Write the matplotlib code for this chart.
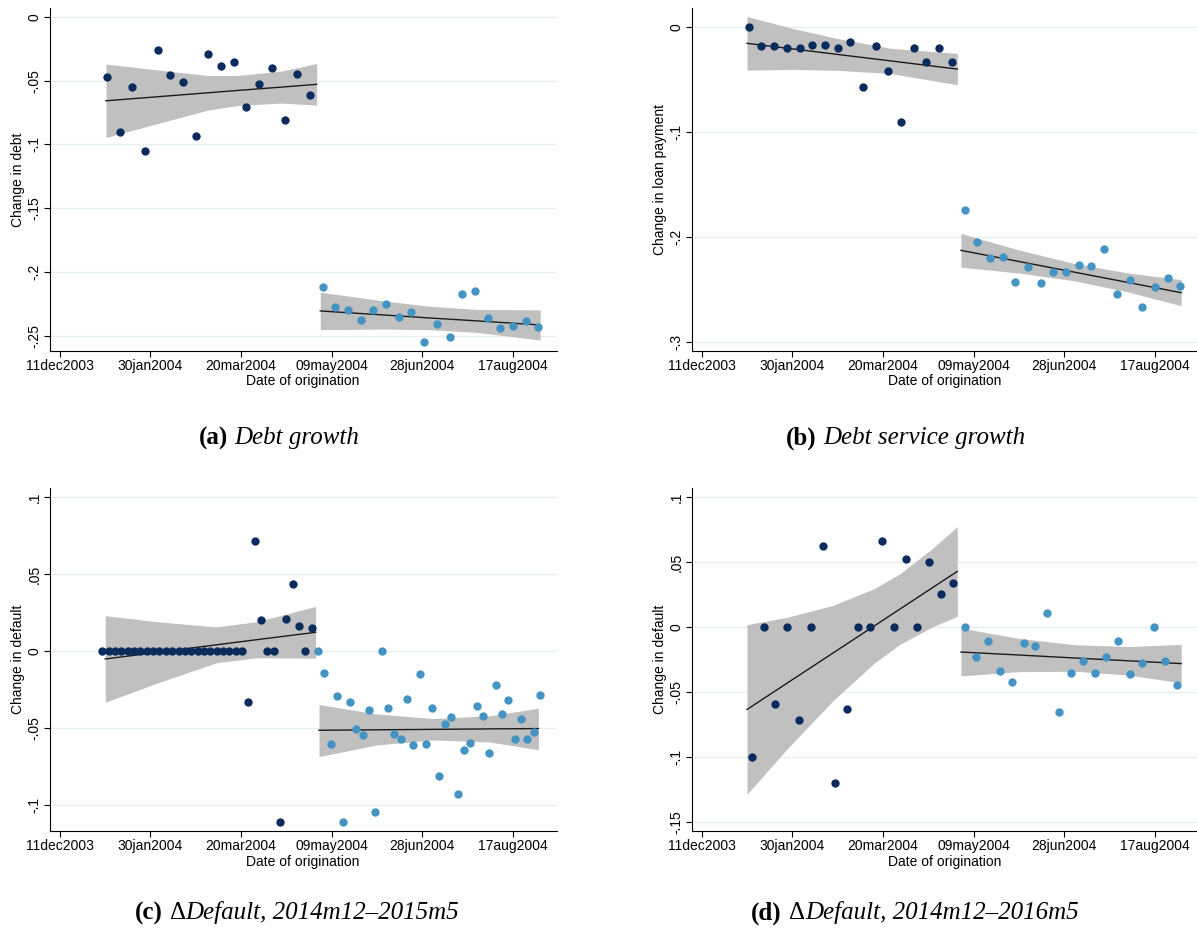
import matplotlib
matplotlib.use('Agg')
import matplotlib.pyplot as plt
from matplotlib.offsetbox import TextArea, HPacker, AnchoredOffsetbox

plt.rcParams['font.family'] = ['Liberation Sans', 'DejaVu Sans']

# ── x axis: days after 11dec2003 ──────────────────────────────────────────────
x_tick_days = [0, 50, 100, 150, 200, 250]
x_tick_labels = ["11dec2003", "30jan2004", "20mar2004", "09may2004", "28jun2004", "17aug2004"]

# ── (a) / (b): weekly bins ────────────────────────────────────────────────────
x_pre_ab = [26, 33, 40, 47, 54, 61, 68, 75, 82, 89, 96, 103, 110, 117, 124, 131, 138]
x_post_ab = [145, 152, 159, 166, 173, 180, 187, 194, 201, 208, 215, 222, 229, 236, 243,
             250, 257, 264]

y_pre_a = [-0.0470, -0.0901, -0.0548, -0.1049, -0.0256, -0.0453, -0.0513, -0.0936, -0.0288,
           -0.0383, -0.0352, -0.0703, -0.0526, -0.0396, -0.0806, -0.0448, -0.0610]
y_post_a = [-0.2120, -0.2272, -0.2296, -0.2377, -0.2296, -0.2254, -0.2353, -0.2317, -0.2547,
            -0.2406, -0.2508, -0.2170, -0.2147, -0.2359, -0.2442, -0.2422, -0.2387, -0.2429]

y_pre_b = [0.0, -0.0181, -0.0188, -0.0206, -0.0202, -0.0178, -0.0176, -0.0207, -0.0146,
           -0.0573, -0.0184, -0.0417, -0.0904, -0.0200, -0.0337, -0.0198, -0.0333]
y_post_b = [-0.1744, -0.2052, -0.2198, -0.2195, -0.2426, -0.2290, -0.2439, -0.2331, -0.2334,
            -0.2271, -0.2274, -0.2119, -0.2540, -0.2407, -0.2667, -0.2480, -0.2391, -0.2464]

# ── (c): half-weekly bins ─────────────────────────────────────────────────────
x_pre_c = [23.5, 27, 30.5, 34, 37.5, 41, 44.5, 48, 51.5, 55, 58.5, 62, 65.5, 69, 72.5, 76,
           79.5, 83, 86.5, 90, 93.5, 97, 100.5, 104, 107.5, 111, 114.5, 118, 121.5, 125,
           128.5, 132, 135.5, 139]
x_post_c = [142.5, 146, 149.5, 153, 156.5, 160, 163.5, 167, 170.5, 174, 177.5, 181, 184.5,
            188, 191.5, 195, 198.5, 202, 205.5, 209, 212.5, 216, 219.5, 223, 226.5, 230,
            233.5, 237, 240.5, 244, 247.5, 251, 254.5, 258, 261.5, 265]
y_pre_c = [0.0, 0.0, 0.0, 0.0, 0.0, 0.0, 0.0, 0.0, 0.0, 0.0, 0.0, 0.0, 0.0, 0.0, 0.0, 0.0,
           0.0, 0.0, 0.0, 0.0, 0.0, 0.0, 0.0,
           -0.0333, 0.0711, 0.0199, 0.0, 0.0, -0.1108, 0.0207, 0.0434, 0.0160, 0.0, 0.0151]
y_post_c = [0.0, -0.0141, -0.0606, -0.0290, -0.1110, -0.0333, -0.0509, -0.0548, -0.0385,
            -0.1043, 0.0, -0.0368, -0.0537, -0.0571, -0.0312, -0.0610, -0.0149, -0.0602,
            -0.0370, -0.0810, -0.0472, -0.0429, -0.0929, -0.0645, -0.0595, -0.0359, -0.0424,
            -0.0660, -0.0219, -0.0411, -0.0318, -0.0571, -0.0444, -0.0571, -0.0526, -0.0288]

# ── (d) ───────────────────────────────────────────────────────────────────────
x_pre_d = [27.7, 34.2, 40.7, 47.3, 53.8, 60.3, 66.8, 73.3, 79.9, 86.4, 92.9, 99.4, 105.9,
           112.5, 119.0, 125.5, 132.0, 138.5]
x_post_d = [145.0, 151.5, 158.0, 164.5, 171.0, 177.6, 184.1, 190.6, 197.1, 203.6, 210.2,
            216.7, 223.2, 229.7, 236.2, 242.7, 249.3, 255.8, 262.3]
y_pre_d = [-0.1001, 0.0, -0.0589, 0.0, -0.0714, 0.0, 0.0622, -0.1198, -0.0627, 0.0, 0.0,
           0.0663, 0.0, 0.0522, 0.0, 0.0504, 0.0256, 0.0338]
y_post_d = [0.0, -0.0226, -0.0105, -0.0336, -0.0423, -0.0123, -0.0144, 0.0113, -0.0649,
            -0.0351, -0.0262, -0.0354, -0.0226, -0.0105, -0.0356, -0.0272, 0.0, -0.0259,
            -0.0446]

# ── linear fits with 95% CI (x, lower, fit, upper) ────────────────────────────
band_a_pre_x = [25.5, 56, 82, 98, 122, 141.7]
band_a_pre_lo = [-0.0945, -0.0828, -0.0729, -0.0694, -0.0675, -0.0691]
band_a_pre_fit = [-0.0657, -0.0623, -0.0594, -0.0576, -0.0550, -0.0528]
band_a_pre_hi = [-0.0369, -0.0418, -0.0459, -0.0458, -0.0425, -0.0365]
band_a_post_x = [143.7, 179, 204, 230, 265]
band_a_post_lo = [-0.2453, -0.2448, -0.2453, -0.2474, -0.2534]
band_a_post_fit = [-0.2306, -0.2338, -0.2361, -0.2384, -0.2416]
band_a_post_hi = [-0.2159, -0.2228, -0.2269, -0.2294, -0.2298]

band_b_pre_x = [25, 50, 76, 104, 141]
band_b_pre_lo = [-0.0413, -0.0406, -0.0416, -0.0445, -0.0552]
band_b_pre_fit = [-0.0158, -0.0211, -0.0266, -0.0325, -0.0403]
band_b_pre_hi = [0.0097, -0.0016, -0.0116, -0.0205, -0.0254]
band_b_post_x = [143, 175, 206, 235, 264.5]
band_b_post_lo = [-0.2288, -0.2344, -0.2419, -0.2523, -0.2655]
band_b_post_fit = [-0.2128, -0.2234, -0.2337, -0.2433, -0.2531]
band_b_post_hi = [-0.1968, -0.2124, -0.2255, -0.2343, -0.2407]

band_c_pre_x = [25.1, 53.4, 86.5, 108.6, 141.1]
band_c_pre_lo = [-0.0333, -0.0210, -0.0076, -0.0044, -0.0047]
band_c_pre_fit = [-0.0052, -0.0010, 0.0040, 0.0073, 0.0121]
band_c_pre_hi = [0.0229, 0.0190, 0.0156, 0.0190, 0.0289]
band_c_post_x = [143, 175, 206, 237, 264]
band_c_post_lo = [-0.0686, -0.0610, -0.0578, -0.0591, -0.0641]
band_c_post_fit = [-0.0515, -0.0512, -0.0509, -0.0506, -0.0504]
band_c_post_hi = [-0.0348, -0.0409, -0.0439, -0.0421, -0.0372]

band_d_pre_x = [25, 46.5, 72.2, 95, 109.2, 127.5, 141]
band_d_pre_lo = [-0.1285, -0.0945, -0.0568, -0.0278, -0.0132, 0.0005, 0.0085]
band_d_pre_fit = [-0.0632, -0.0435, -0.0200, 0.0009, 0.0139, 0.0307, 0.0430]
band_d_pre_hi = [0.0021, 0.0075, 0.0168, 0.0296, 0.0410, 0.0609, 0.0775]
band_d_post_x = [143, 175, 206, 236, 264.5]
band_d_post_lo = [-0.0374, -0.0341, -0.0338, -0.0368, -0.0427]
band_d_post_fit = [-0.0190, -0.0213, -0.0236, -0.0258, -0.0279]
band_d_post_hi = [-0.0006, -0.0085, -0.0134, -0.0148, -0.0131]

# ── y axes ────────────────────────────────────────────────────────────────────
yticks_a = [0, -0.05, -0.1, -0.15, -0.2, -0.25]
ytick_labels_a = ["0", "-.05", "-.1", "-.15", "-.2", "-.25"]
yticks_b = [0, -0.1, -0.2, -0.3]
ytick_labels_b = ["0", "-.1", "-.2", "-.3"]
yticks_c = [0.1, 0.05, 0, -0.05, -0.1]
ytick_labels_c = [".1", ".05", "0", "-.05", "-.1"]
yticks_d = [0.1, 0.05, 0, -0.05, -0.1, -0.15]
ytick_labels_d = [".1", ".05", "0", "-.05", "-.1", "-.15"]

DARK = "#0a2c5c"
LIGHT = "#4393c3"
BAND = "#c0c0c0"
GRID = "#e6eef0"

W, H = 1197, 934


def px_axes(fig, left, right, top, bottom):
    return fig.add_axes([left / W, 1 - bottom / H, (right - left) / W, (bottom - top) / H])


def draw_panel(ax, pre, post, bands, yticks, ytick_labels, ylim, ylabel):
    for bx, lo, fit, hi in bands:
        ax.fill_between(bx, lo, hi, color=BAND, lw=0, zorder=2)
        ax.plot(bx, fit, color="#1a1a1a", lw=1.0, zorder=3)
    ax.plot(pre[0], pre[1], "o", ms=6, mew=0, color=DARK, zorder=4)
    ax.plot(post[0], post[1], "o", ms=6, mew=0, color=LIGHT, zorder=4)

    ax.set_xlim(-5.5, 274)
    ax.set_ylim(*ylim)
    ax.set_xticks(x_tick_days)
    ax.set_xticklabels(x_tick_labels)
    ax.set_yticks(yticks)
    ax.set_yticklabels(ytick_labels, rotation=90, va="center")
    ax.tick_params(length=4, width=0.8, labelsize=10, pad=2)
    ax.grid(axis="y", color=GRID, lw=1.0, zorder=0)
    ax.set_axisbelow(True)
    for side in ("top", "right"):
        ax.spines[side].set_visible(False)
    for side in ("left", "bottom"):
        ax.spines[side].set_linewidth(0.8)
    ax.set_xlabel("Date of origination", fontsize=10, labelpad=1)
    ax.set_ylabel(ylabel, fontsize=10, labelpad=2)


def add_caption(fig, x_px, y_px, tag, parts):
    serif = dict(family="Liberation Serif", size=18)
    body = [TextArea(t, textprops=dict(style=s, **serif)) for t, s in parts]
    box = HPacker(children=[TextArea(tag, textprops=dict(weight="bold", **serif)),
                            HPacker(children=body, sep=0, pad=0, align="baseline")],
                  sep=5, pad=0, align="baseline")
    fig.add_artist(AnchoredOffsetbox(loc="center", child=box, pad=0, borderpad=0,
                                     frameon=False, bbox_to_anchor=(x_px / W, 1 - y_px / H),
                                     bbox_transform=fig.transFigure))


fig = plt.figure(figsize=(W / 100, H / 100), dpi=100)

ax_a = px_axes(fig, 49.8, 556.5, 8, 350.7)
draw_panel(ax_a, (x_pre_ab, y_pre_a), (x_post_ab, y_post_a),
           [(band_a_pre_x, band_a_pre_lo, band_a_pre_fit, band_a_pre_hi),
            (band_a_post_x, band_a_post_lo, band_a_post_fit, band_a_post_hi)],
           yticks_a, ytick_labels_a, (-0.2618, 0.0071), "Change in debt")

ax_b = px_axes(fig, 691.7, 1198.4, 8, 350.7)
draw_panel(ax_b, (x_pre_ab, y_pre_b), (x_post_ab, y_post_b),
           [(band_b_pre_x, band_b_pre_lo, band_b_pre_fit, band_b_pre_hi),
            (band_b_post_x, band_b_post_lo, band_b_post_fit, band_b_post_hi)],
           yticks_b, ytick_labels_b, (-0.3083, 0.0178), "Change in loan payment")

ax_c = px_axes(fig, 49.8, 556.5, 488, 831)
draw_panel(ax_c, (x_pre_c, y_pre_c), (x_post_c, y_post_c),
           [(band_c_pre_x, band_c_pre_lo, band_c_pre_fit, band_c_pre_hi),
            (band_c_post_x, band_c_post_lo, band_c_post_fit, band_c_post_hi)],
           yticks_c, ytick_labels_c, (-0.1169, 0.1058), "Change in default")

ax_d = px_axes(fig, 691.7, 1198.4, 488, 831)
draw_panel(ax_d, (x_pre_d, y_pre_d), (x_post_d, y_post_d),
           [(band_d_pre_x, band_d_pre_lo, band_d_pre_fit, band_d_pre_hi),
            (band_d_post_x, band_d_post_lo, band_d_post_fit, band_d_post_hi)],
           yticks_d, ytick_labels_d, (-0.1567, 0.1072), "Change in default")

add_caption(fig, 279, 438, "(a)", [("Debt growth", "italic")])
add_caption(fig, 906, 438, "(b)", [("Debt service growth", "italic")])
add_caption(fig, 297, 913, "(c)", [("Δ", "normal"), ("Default, 2014m12–2015m5", "italic")])
add_caption(fig, 915, 913, "(d)", [("Δ", "normal"), ("Default, 2014m12–2016m5", "italic")])

fig.savefig("out.png", dpi=100)
